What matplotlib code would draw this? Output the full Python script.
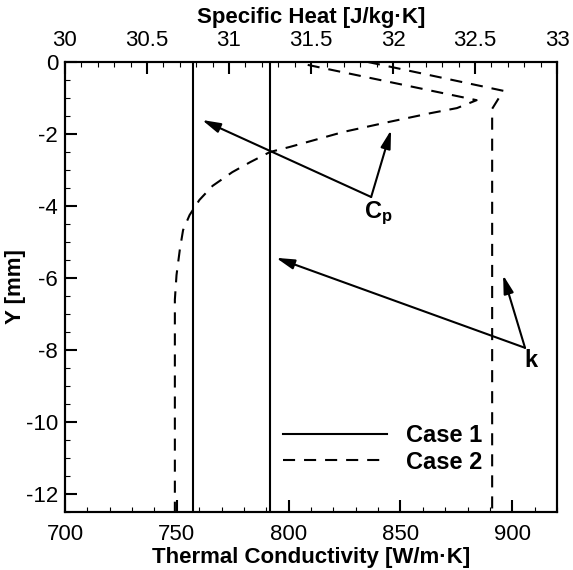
# Temperature-dependent properties across the layer: k and Cp vs Y
import matplotlib
matplotlib.use('Agg')
import matplotlib.pyplot as plt
from matplotlib.ticker import MultipleLocator, FormatStrFormatter

# Case 1: constant properties
y_case1 = [0, -12.5]
k_case1 = [791.7, 791.7]
cp_case1 = [30.78, 30.78]

# Case 2: thermal conductivity (bottom axis)
y_k_case2 = [0, -0.8, -1.3, -12.5]
k_case2 = [835.5, 896, 891, 891]

# Case 2: specific heat (top axis)
y_cp_case2 = [-0.08, -1.06, -1.28, -1.42, -1.66, -1.94, -2.36, -2.50, -2.78,
              -3.06, -3.44, -3.83, -4.25, -4.67, -5.22, -5.92, -6.6, -12.5]
cp_case2 = [31.48, 32.51, 32.39, 32.23, 31.98, 31.70, 31.37, 31.25, 31.13,
            31.02, 30.90, 30.82, 30.76, 30.72, 30.70, 30.68, 30.67, 30.67]

case_labels = ['Case 1', 'Case 2']

plt.rcParams['font.family'] = ['Liberation Sans', 'DejaVu Sans']
plt.rcParams['axes.unicode_minus'] = False
plt.rcParams['mathtext.fontset'] = 'custom'
plt.rcParams['mathtext.bf'] = 'Liberation Sans:bold'
plt.rcParams['mathtext.rm'] = 'Liberation Sans'

dash = (0, (5.8, 4.3))

fig = plt.figure(figsize=(5.73, 5.70), dpi=100)
ax = fig.add_axes([0.1134, 0.1018, 0.8587, 0.7894])
ax2 = ax.twiny()

# k on the bottom axis
l1, = ax.plot(k_case1, y_case1, color='black', lw=1.5)
l2, = ax.plot(k_case2, y_k_case2, color='black', lw=1.5, linestyle=dash)
# Cp on the top axis
ax2.plot(cp_case1, y_case1, color='black', lw=1.5)
ax2.plot(cp_case2, y_cp_case2, color='black', lw=1.5, linestyle=dash)

ax.set_xlim(700, 920)
ax.set_ylim(-12.5, 0)
ax2.set_xlim(30, 33)

ax.xaxis.set_major_locator(MultipleLocator(50))
ax.xaxis.set_minor_locator(MultipleLocator(10))
ax.yaxis.set_major_locator(MultipleLocator(2))
ax.yaxis.set_minor_locator(MultipleLocator(0.5))
ax2.xaxis.set_major_locator(MultipleLocator(0.5))
ax2.xaxis.set_minor_locator(MultipleLocator(0.1))
ax2.xaxis.set_major_formatter(FormatStrFormatter('%g'))

for a in (ax, ax2):
    for s in a.spines.values():
        s.set_linewidth(1.5)
    a.tick_params(which='major', direction='in', length=8.5, width=1.5,
                  labelsize=16, pad=9)
    a.tick_params(which='minor', direction='in', length=3.8, width=0.8)
ax.tick_params(which='both', top=False, right=False)
ax.tick_params(axis='y', which='major', pad=5)
ax2.tick_params(which='both', bottom=False)
ax2.tick_params(which='major', pad=8)

ax.set_xlabel('Thermal Conductivity [W/m·K]', fontsize=16, fontweight='bold',
              labelpad=1)
ax.set_ylabel('Y [mm]', fontsize=16, fontweight='bold')
ax.yaxis.set_label_coords(-0.079, 0.5)
ax2.set_xlabel('Specific Heat [J/kg·K]', fontsize=16, fontweight='bold',
               labelpad=5)

# annotations with arrows
arrow = dict(arrowstyle='-|>,head_length=1.1,head_width=0.3', lw=1.5,
             color='black', mutation_scale=10, shrinkA=0, shrinkB=0)
ax.annotate('', xy=(761.3, -1.61), xytext=(836.9, -3.75), arrowprops=arrow)
ax.annotate('', xy=(845.8, -1.89), xytext=(836.9, -3.75), arrowprops=arrow)
ax.text(840, -4.2, r'$\mathbf{C_p}$', fontsize=17, ha='center', va='center')
ax.annotate('', xy=(794.4, -5.44), xytext=(905.7, -7.94), arrowprops=arrow)
ax.annotate('', xy=(895.9, -5.92), xytext=(905.7, -7.94), arrowprops=arrow)
ax.text(908.4, -8.3, 'k', fontsize=17, fontweight='bold', ha='center',
        va='center')

ax.legend([l1, l2], case_labels, loc='lower left',
          bbox_to_anchor=(0.443, 0.085), frameon=False, borderpad=0,
          borderaxespad=0, handlelength=4.4, handletextpad=0.8,
          labelspacing=0.15, prop={'size': 17, 'weight': 'bold'})

fig.savefig('out.png', dpi=100)
